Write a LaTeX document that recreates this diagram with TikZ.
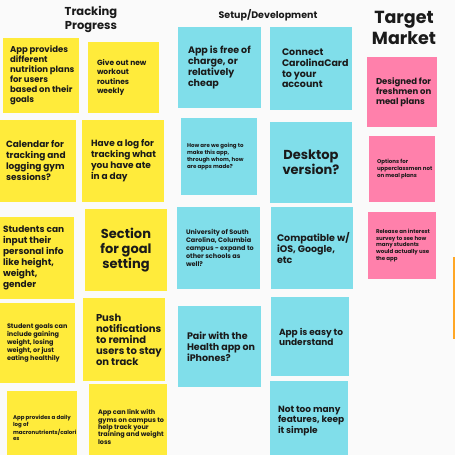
\documentclass[tikz,border=0pt]{standalone}
\usepackage{fontspec}
\setmainfont{Poppins}
\definecolor{pagebg}{HTML}{FAFAFA}
\definecolor{noteyellow}{HTML}{FFEB3B}
\definecolor{notecyan}{HTML}{80DEEA}
\definecolor{notepink}{HTML}{FF80AB}
\definecolor{noteorange}{HTML}{FFA726}
\definecolor{ink}{HTML}{1A1A1A}
% sticky note: name, colour style, x1, y1, x2, y2 (pixels, y downwards)
\newcommand\sticky[6]{%
  \node[notebox, #2, minimum width={(#5-#3)*1pt}, minimum height={(#6-#4)*1pt}]
    (#1) at ({(#3+#5)/2},{(#4+#6)/2}) {};}
% font of a given size and line spacing
\newcommand\fs[2]{\fontsize{#1}{#2}\selectfont\bfseries}
\begin{document}
\begin{tikzpicture}[x=1pt,y=-1pt,
  notebox/.style={rectangle, inner sep=0pt, draw=none},
  yel/.style={fill=noteyellow},
  cya/.style={fill=notecyan},
  pnk/.style={fill=notepink},
  org/.style={fill=noteorange},
  txt/.style={anchor=west, align=left, inner sep=0pt, text=ink},
  ctxt/.style={align=center, inner sep=0pt, text=ink},
  heading/.style={align=center, inner sep=0pt, text=ink}]
\path[use as bounding box, clip] (0,0) rectangle (455,455);
\fill[pagebg] (0,0) rectangle (455,455);

% headings
\node[heading, font=\fs{11.5}{14}] (h1) at (91,19) {Tracking\\Progress};
\node[heading, font=\fs{9.5}{10}] (h2) at (268,15) {Setup/Development};
\node[heading, font=\fs{17.5}{21}] (h3) at (404,28) {Target\\Market};

% Tracking Progress column
\sticky{y1}{yel}{3}{38}{79}{113}
\node[txt, font=\fs{8.5}{10}] (y1t) at ([xshift=7pt]y1.west) {App provides\\different\\nutrition plans\\for users\\based on their\\goals};
\sticky{y2}{yel}{88}{42}{159}{113}
\node[txt, font=\fs{7.5}{9.3}] (y2t) at ([xshift=9pt]y2.west) {Give out new\\workout\\routines\\weekly};
\sticky{y3}{yel}{-5}{120}{76}{202}
\node[txt, font=\fs{9}{11}] (y3t) at ([xshift=11pt]y3.west) {Calendar for\\tracking and\\logging gym\\sessions?};
\sticky{y4}{yel}{82}{120}{164}{202}
\node[txt, font=\fs{9}{11}] (y4t) at ([xshift=9pt]y4.west) {Have a log for\\tracking what\\you have ate\\in a day};
\sticky{y5}{yel}{-5}{217}{74}{299}
\node[txt, font=\fs{9}{11}] (y5t) at ([xshift=8pt]y5.west) {Students can\\input their\\personal info\\like height,\\weight,\\gender};
\sticky{y6}{yel}{85}{209}{167}{291}
\node[ctxt, font=\fs{13}{15}] (y6t) at (y6.center) {Section\\for goal\\setting};
\sticky{y7}{yel}{-5}{303}{75}{383}
\node[txt, font=\fs{6.5}{8}] (y7t) at ([xshift=12pt]y7.west) {Student goals can\\include gaining\\weight, losing\\weight, or just\\eating healthily};
\sticky{y8}{yel}{83}{298}{165}{381}
\node[txt, font=\fs{10}{11}] (y8t) at ([xshift=13pt]y8.west) {Push\\notifications\\to remind\\users to stay\\on track};
\sticky{y9}{yel}{7}{391}{77}{465}
\node[txt, font=\fs{5.5}{6.7}] (y9t) at ([xshift=6pt]y9.west) {App provides a daily\\log of\\macronutrients/calori\\es};
\sticky{y10}{yel}{89}{384}{167}{470}
\node[txt, font=\fs{6.5}{7.3}] (y10t) at ([xshift=9pt]y10.west) {App can link with\\gyms on campus to\\help track your\\training and weight\\loss};

% Setup/Development column
\sticky{c1}{cya}{178}{27}{261}{108}
\node[txt, font=\fs{9.5}{10.7}] (c1t) at ([xshift=10pt]c1.west) {App is free of\\charge, or\\relatively\\cheap};
\sticky{c2}{cya}{270}{27}{352}{110}
\node[txt, font=\fs{9.5}{10.7}] (c2t) at ([xshift=12pt]c2.west) {Connect\\CarolinaCard\\to your\\account};
\sticky{c3}{cya}{181}{118}{257}{195}
\node[txt, font=\fs{5.5}{6.7}] (c3t) at ([xshift=6pt]c3.west) {How are we going to\\make this app,\\through whom, how\\are apps made?};
\sticky{c4}{cya}{270}{122}{352}{203}
\node[ctxt, font=\fs{13}{15}] (c4t) at (c4.center) {Desktop\\version?};
\sticky{c5}{cya}{177}{207}{260}{289}
\node[txt, font=\fs{6.5}{8}] (c5t) at ([xshift=9pt]c5.west) {University of South\\Carolina, Columbia\\campus - expand to\\other schools as\\well?};
\sticky{c6}{cya}{271}{207}{353}{289}
\node[txt, font=\fs{9.5}{11}] (c6t) at ([xshift=6pt]c6.west) {Compatible w/\\iOS, Google,\\etc};
\sticky{c7}{cya}{178}{306}{261}{387}
\node[txt, font=\fs{9.5}{11}] (c7t) at ([xshift=9pt]c7.west) {Pair with the\\Health app on\\iPhones?};
\sticky{c8}{cya}{271}{297}{349}{376}
\node[txt, font=\fs{9}{10}] (c8t) at ([xshift=8pt]c8.west) {App is easy to\\understand};
\sticky{c9}{cya}{270}{381}{348}{461}
\node[txt, font=\fs{9}{10.3}] (c9t) at ([xshift=8pt]c9.west) {Not too many\\features, keep\\it simple};

% Target Market column
\sticky{p1}{pnk}{367}{57}{437}{127}
\node[txt, font=\fs{8.5}{10}] (p1t) at ([xshift=9pt]p1.west) {Designed for\\freshmen on\\meal plans};
\sticky{p2}{pnk}{369}{136}{435}{202}
\node[txt, font=\fs{5.5}{6.7}] (p2t) at ([xshift=8pt]p2.west) {Options for\\upperclassmen not\\on meal plans};
\sticky{p3}{pnk}{368}{212}{436}{279}
\node[txt, font=\fs{5.5}{6.7}] (p3t) at ([xshift=8pt]p3.west) {Release an interest\\survey to see how\\many students\\would actually use\\the app};
\sticky{o1}{org}{453}{257}{475}{339}
\end{tikzpicture}
\end{document}
